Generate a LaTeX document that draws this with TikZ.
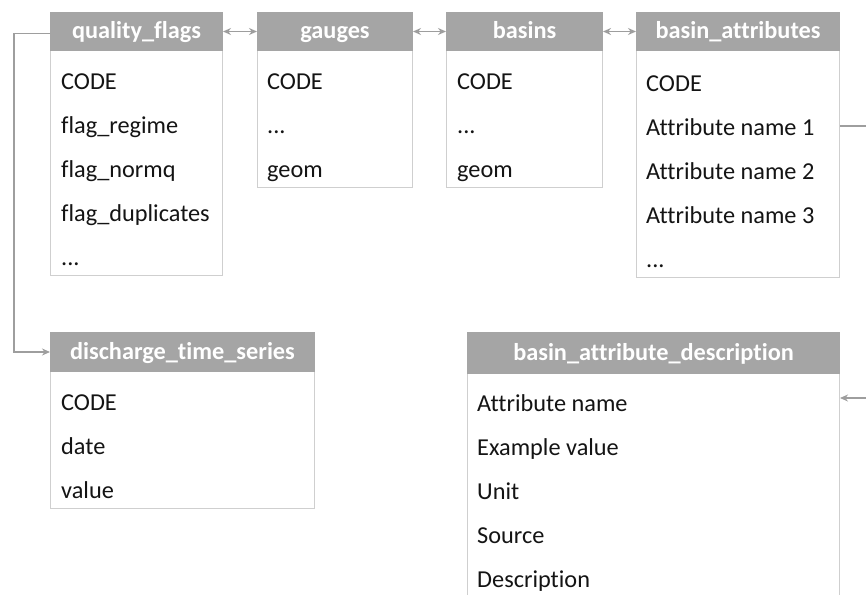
\documentclass[tikz,border=0pt]{standalone}
\usepackage{fontspec}
\setmainfont{Carlito}[Ligatures={NoCommon}]
\usetikzlibrary{arrows.meta}
\definecolor{hdrgray}{HTML}{A5A5A5}
\definecolor{boxline}{HTML}{CFCFCF}
\definecolor{linkgray}{HTML}{9E9E9E}
% an ellipsis row, kept out of \foreach's range syntax
\newcommand\fielddots{.{}.{}.}
\begin{document}
\begin{tikzpicture}[x=1pt,y=-1pt,
  tbody/.style={draw=boxline, line width=1pt, anchor=north west, inner sep=0, fill=white},
  hdr/.style={fill=hdrgray, draw=hdrgray, line width=1pt, text=white, anchor=north west, inner sep=0,
    minimum height=38pt, text height=20pt, text depth=5pt,
    font=\fontsize{24.3}{29}\selectfont\bfseries},
  field/.style={anchor=base west, inner sep=0, text=black!92, font=\fontsize{24.3}{29}\selectfont},
  link/.style={draw=linkgray, line width=1.4pt},
  tip/.tip={Stealth[length=8pt,width=7pt]}]
\useasboundingbox (0,0) rectangle (866,594);

% quality_flags
\node[tbody, minimum width=172pt, minimum height=263pt] (qfb) at (50,12) {};
\node[hdr, minimum width=172pt] (qf) at (50,12) {quality\_flags};
\foreach \t [count=\i] in {CODE, flag\_regime, flag\_normq, flag\_duplicates, \fielddots}
  \node[field] (qf\i) at (61,{89+44*(\i-1)}) {\t};

% gauges
\node[tbody, minimum width=155pt, minimum height=175pt] (gab) at (257,12) {};
\node[hdr, minimum width=155pt] (ga) at (257,12) {gauges};
\foreach \t [count=\i] in {CODE, \fielddots, geom}
  \node[field] (ga\i) at (267,{89+44*(\i-1)}) {\t};

% basins
\node[tbody, minimum width=156pt, minimum height=175pt] (bsb) at (446,12) {};
\node[hdr, minimum width=156pt] (bs) at (446,12) {basins};
\foreach \t [count=\i] in {CODE, \fielddots, geom}
  \node[field] (bs\i) at (457,{89+44*(\i-1)}) {\t};

% basin_attributes
\node[tbody, minimum width=203pt, minimum height=265pt] (bab) at (636,12) {};
\node[hdr, minimum width=203pt] (ba) at (636,12) {basin\_attributes};
\foreach \t [count=\i] in {CODE, Attribute name 1, Attribute name 2, Attribute name 3, \fielddots}
  \node[field] (ba\i) at (646,{91+44*(\i-1)}) {\t};

% discharge_time_series
\node[tbody, minimum width=264pt, minimum height=176pt] (dtb) at (50,332) {};
\node[hdr, minimum width=264pt, minimum height=39pt] (dt) at (50,332) {discharge\_time\_series};
\foreach \t [count=\i] in {CODE, date, value}
  \node[field] (dt\i) at (61,{410+44*(\i-1)}) {\t};

% basin_attribute_description
\node[tbody, minimum width=372pt, minimum height=300pt] (deb) at (467,332) {};
\node[hdr, minimum width=372pt, minimum height=41pt] (de) at (467,332) {basin\_attribute\_description};
\foreach \t [count=\i] in {Attribute name, Example value, Unit, Source, Description}
  \node[field] (de\i) at (477,{411+44*(\i-1)}) {\t};

% links between the tables
\draw[link, tip-tip] (qf.east) -- (ga.west);
\draw[link, tip-tip] (ga.east) -- (bs.west);
\draw[link, tip-tip] (bs.east) -- (ba.west);
\draw[link, -tip] ([yshift=-2pt]qf.west) -- ++(-36,0) |- (dt.west);
\coordinate (outR) at (900,0);
\draw[link, -tip] (bab.east |- 0,126) -- (outR |- 0,126) -- (outR |- 0,398) -- (deb.east |- 0,398);
\end{tikzpicture}
\end{document}
